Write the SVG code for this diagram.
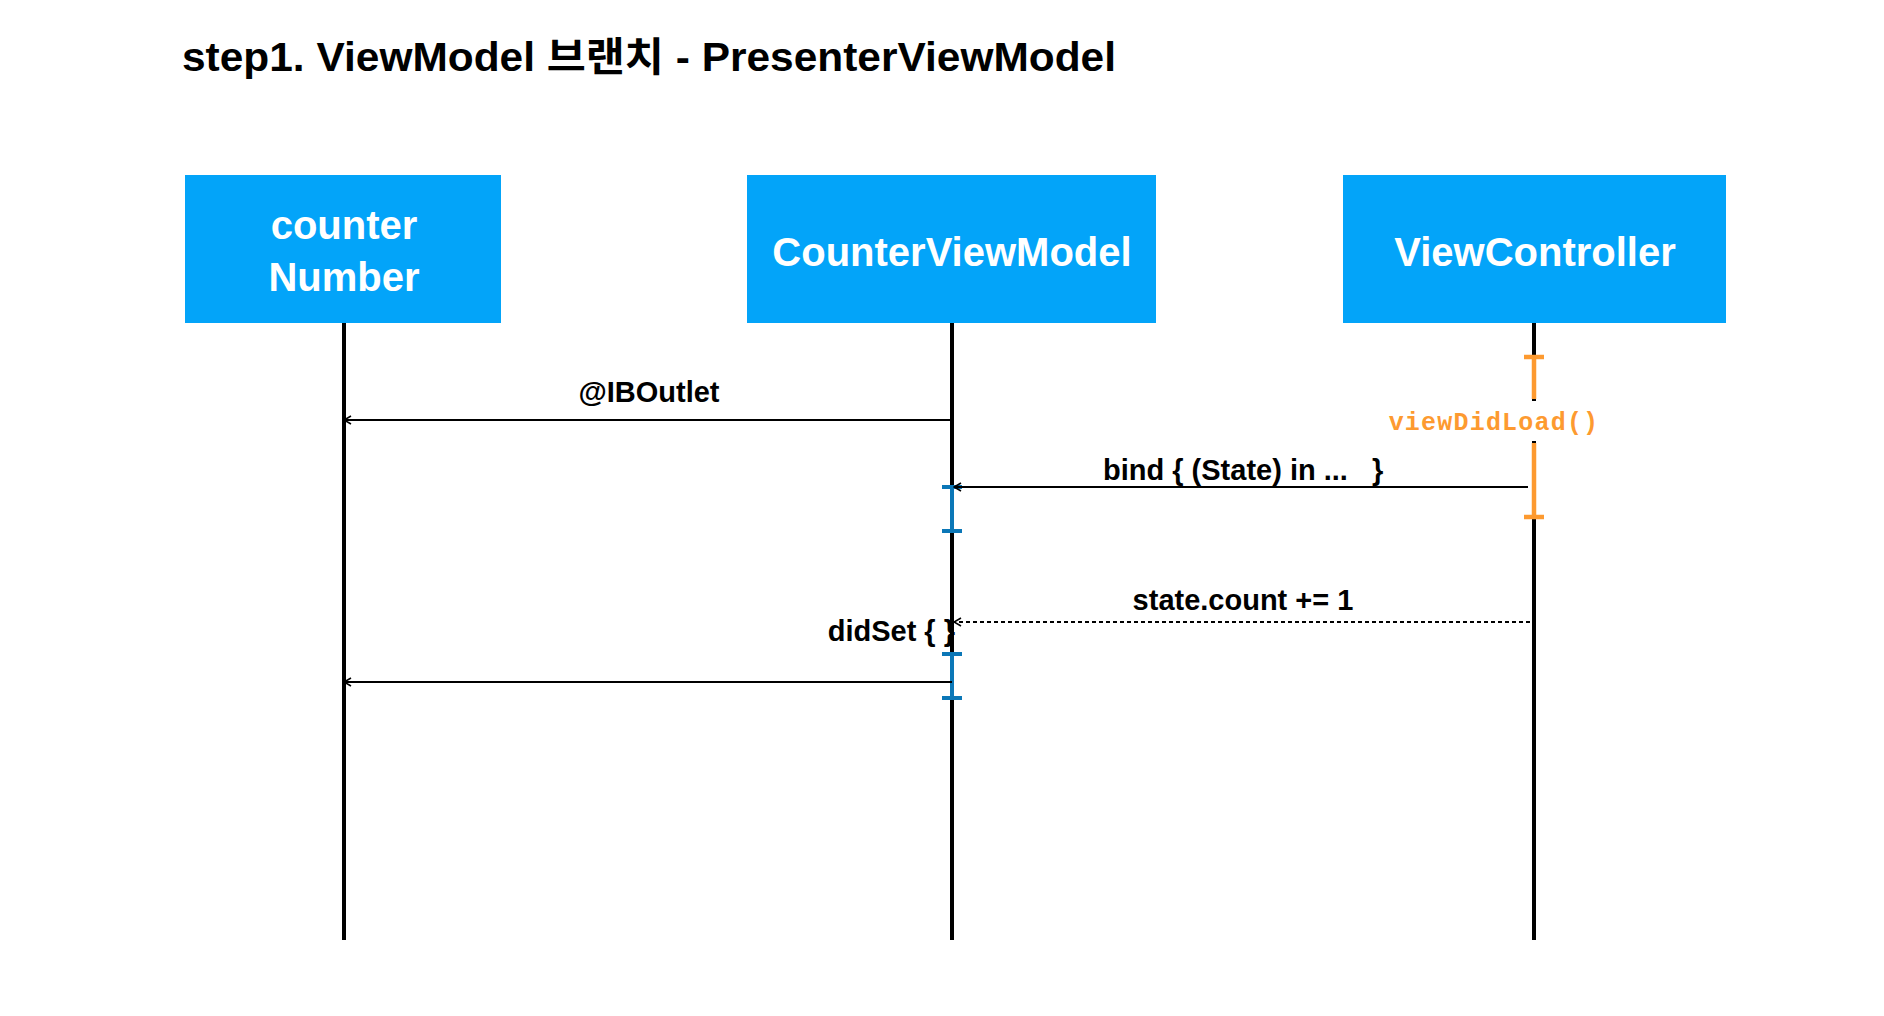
<svg xmlns="http://www.w3.org/2000/svg" width="1884" height="1016" viewBox="0 0 1884 1016">
<style>
.box{fill:#03A4F9}
.boxt{font-family:"Liberation Sans",Arial,sans-serif;font-weight:bold;font-size:40px;fill:#fff;text-anchor:middle}
.life{stroke:#000;stroke-width:4;fill:none}
.msg{stroke:#000;stroke-width:2;fill:none}
.lbl{font-family:"Liberation Sans",Arial,sans-serif;font-weight:bold;font-size:29px;fill:#000}
.act{stroke:#0B77B7;stroke-width:4;fill:none}
.orange{stroke:#FD9A30;stroke-width:4.5;fill:none}
</style>
<defs>
<marker id="open" viewBox="0 0 10 10" refX="9" refY="5" markerWidth="10" markerHeight="10" markerUnits="userSpaceOnUse" orient="auto">
<path d="M2,1 L9,5 L2,9" fill="none" stroke="#000" stroke-width="1.6"/>
</marker>
</defs>
<rect width="1884" height="1016" fill="#fff"/>
<text x="182" y="71" font-family="'Liberation Sans','Noto Sans CJK KR',Arial,sans-serif" font-weight="bold" font-size="40" textLength="934" lengthAdjust="spacingAndGlyphs" fill="#000">step1. ViewModel 브랜치 - PresenterViewModel</text>

<g id="node-counterNumber">
<rect class="box" x="185" y="175" width="316" height="148"/>
<text class="boxt" x="344" y="239">counter</text>
<text class="boxt" x="344" y="291">Number</text>
<line class="life" x1="344" y1="323" x2="344" y2="940"/>
</g>
<g id="node-CounterViewModel">
<rect class="box" x="747" y="175" width="409" height="148"/>
<text class="boxt" x="952" y="266">CounterViewModel</text>
<line class="life" x1="952" y1="323" x2="952" y2="940"/>
</g>
<g id="node-ViewController">
<rect class="box" x="1343" y="175" width="383" height="148"/>
<text class="boxt" x="1535" y="266">ViewController</text>
<line class="life" x1="1534" y1="323" x2="1534" y2="940"/>
</g>

<g id="activations">
<path class="orange" d="M1534,357 V399 M1534,443 V517 M1524,357 H1544 M1524,517 H1544"/>
<rect x="1384" y="401" width="218" height="40" fill="#fff"/>
<text x="1494" y="430" font-family="'Liberation Mono','DejaVu Sans Mono',monospace" font-weight="bold" font-size="25" letter-spacing="1.2" fill="#FD9A30" text-anchor="middle">viewDidLoad()</text>
<path class="act" d="M952,487 V531 M942,487 H962 M942,531 H962"/>
<path class="act" d="M952,654 V698 M942,654 H962 M942,698 H962"/>
</g>

<g id="connectors">
<line class="msg" x1="952" y1="420" x2="344" y2="420" marker-end="url(#open)"/>
<text class="lbl" x="649" y="402" text-anchor="middle">@IBOutlet</text>
<line class="msg" x1="1528" y1="487" x2="954" y2="487" marker-end="url(#open)"/>
<text class="lbl" x="1103" y="480" xml:space="preserve">bind { (State) in ...   }</text>
<line class="msg" x1="1530" y1="622" x2="954" y2="622" stroke-dasharray="4 3" marker-end="url(#open)"/>
<text class="lbl" x="1243" y="610" text-anchor="middle">state.count += 1</text>
<text class="lbl" x="955" y="641" text-anchor="end">didSet { }</text>
<line class="msg" x1="952" y1="682" x2="344" y2="682" marker-end="url(#open)"/>
</g>
</svg>
